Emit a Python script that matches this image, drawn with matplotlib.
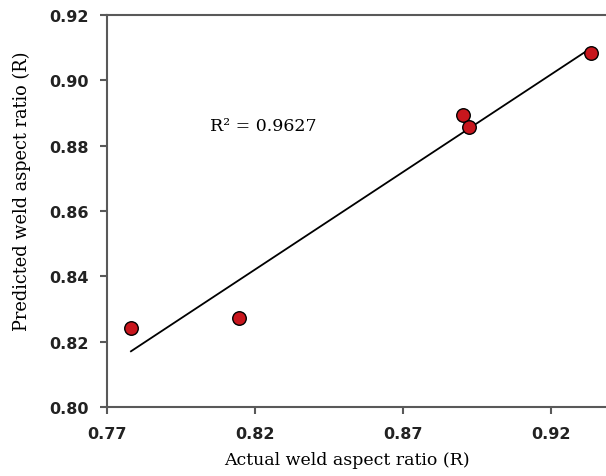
import numpy as np
import matplotlib.pyplot as plt

# data
actual = [0.7781, 0.8146, 0.8903, 0.8925, 0.9335]
predicted = [0.8243, 0.8273, 0.8894, 0.8857, 0.9084]
xticks = [0.77, 0.82, 0.87, 0.92]
yticks = [0.80, 0.82, 0.84, 0.86, 0.88, 0.90, 0.92]
r2_label = 'R² = 0.9627'

axcol = '#595959'

fig = plt.figure(figsize=(6.06, 4.77), dpi=100)
ax = fig.add_axes([107/606, 69/477, 503/606, 392/477])

# linear trendline through the points
p = np.polyfit(actual, predicted, 1)
xfit = np.array([min(actual), max(actual)])
ax.plot(xfit, np.polyval(p, xfit), color='black', lw=1.3, zorder=2)

ax.scatter(actual, predicted, s=95, color='#c8161d', edgecolor='black',
           linewidth=1.0, zorder=3)

ax.text(0.8048, 0.8862, r2_label, fontsize=12.5, family='DejaVu Serif',
        va='center', ha='left')

ax.set_xlim(0.77, 0.94)
ax.set_ylim(0.80, 0.92)
ax.set_xticks(xticks)
ax.set_yticks(yticks)
ax.set_xticklabels(['%.2f' % v for v in xticks])
ax.set_yticklabels(['%.2f' % v for v in yticks])

for s in ['left', 'bottom', 'top']:
    ax.spines[s].set_color(axcol)
    ax.spines[s].set_linewidth(1.5)
ax.spines['right'].set_visible(False)
ax.tick_params(direction='out', length=5, width=1.5, color=axcol,
               labelsize=11.5)
ax.tick_params(axis='y', pad=8)
ax.tick_params(axis='x', pad=9)
for lab in ax.get_xticklabels() + ax.get_yticklabels():
    lab.set_fontweight('bold')
    lab.set_color('#222222')

ax.set_xlabel('Actual weld aspect ratio (R)', family='DejaVu Serif',
              fontsize=12.5, va='center')
ax.set_ylabel('Predicted weld aspect ratio (R)', family='DejaVu Serif',
              fontsize=12.8, va='center')
# label positions in axes coords, the axes runs past the right edge
ax.xaxis.set_label_coords(0.477, -0.133)
ax.yaxis.set_label_coords(-0.169, 0.554)

fig.savefig('out.png', dpi=100)
